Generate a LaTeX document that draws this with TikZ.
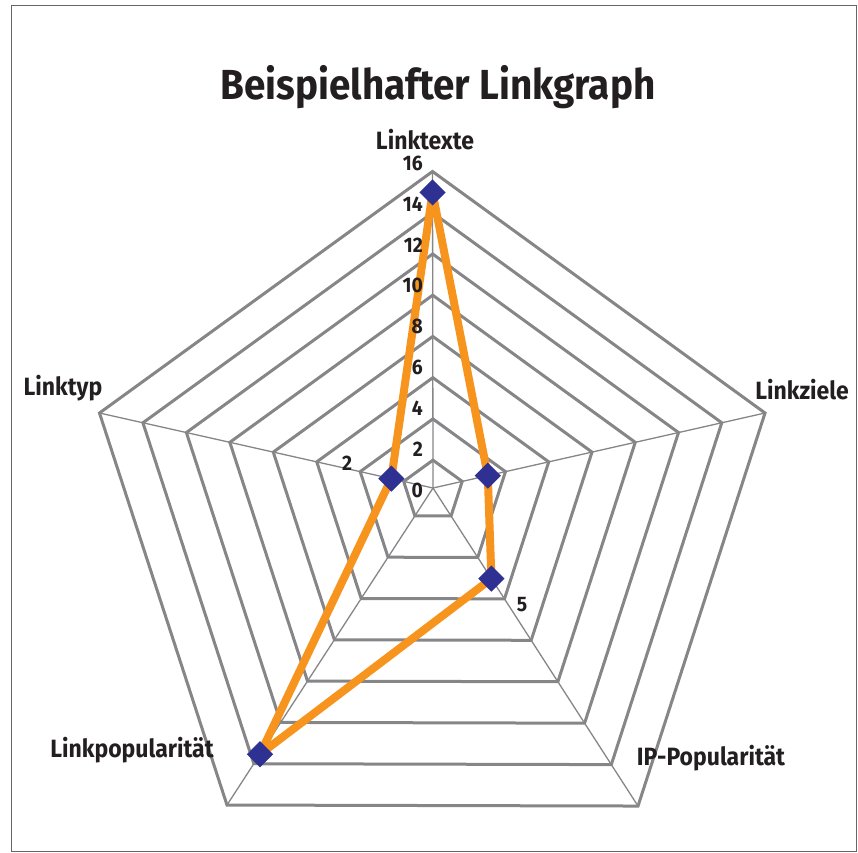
\documentclass[tikz,border=0pt]{standalone}
\usepackage{fontspec}
\newfontfamily\chartfont[FakeStretch=0.92]{Fira Sans}
\usetikzlibrary{calc}
\definecolor{gridgray}{RGB}{134,134,136}
\definecolor{lineorange}{RGB}{247,148,29}
\definecolor{markblue}{RGB}{46,49,146}
\definecolor{textblack}{RGB}{35,31,32}

\begin{document}
\begin{tikzpicture}[x=1pt,y=-1pt,
  ring/.style={draw=gridgray, line width=3pt, line join=miter},
  spoke/.style={draw=gridgray, line width=1.3pt},
  dataline/.style={draw=lineorange, line width=8pt, line join=round},
  marker/.style={fill=markblue, draw=none, minimum size=18.5pt, inner sep=0pt, rotate=45},
  titletext/.style={font=\chartfont\bfseries\fontsize{42}{44}\selectfont, text=textblack, inner sep=0pt},
  axislabel/.style={font=\chartfont\bfseries\fontsize{25}{27}\selectfont, text=textblack, inner sep=0pt},
  ticklabel/.style={font=\chartfont\bfseries\fontsize{21}{23}\selectfont, text=textblack, inner sep=0pt}]
	%%%%% FRAME %%%%%
	\useasboundingbox (0,0) rectangle (858,852);
	\draw[line width=1pt, color=black!60] (11,5) rectangle (856,851);
	
	\node[titletext] (title) at (438,87) {Beispielhafter Linkgraph};
	
	%%%%% AXES %%%%%
	\coordinate (C) at (433,488);
	\coordinate (A1) at (432.5,171.5);
	\coordinate (A2) at (765,413);
	\coordinate (A3) at (638,806);
	\coordinate (A4) at (227,805);
	\coordinate (A5) at (99.5,413);
	
	\foreach \k in {1,...,8} {
		\pgfmathsetmacro\f{0.088+0.1303*(\k-1)}
		\draw[ring] ($(C)!\f!(A1)$) -- ($(C)!\f!(A2)$) -- ($(C)!\f!(A3)$) -- ($(C)!\f!(A4)$) -- ($(C)!\f!(A5)$) -- cycle;
	}
	\foreach \i in {1,...,5}
		\draw[spoke] (C) -- (A\i);
	
	\node[axislabel] (lab1) at (425,140) {Linktexte};
	\node[axislabel] (lab2) at (802,390) {Linkziele};
	\node[axislabel] (lab3) at (711,758) {IP-Popularität};
	\node[axislabel] (lab4) at (132,750) {Linkpopularität};
	\node[axislabel] (lab5) at (63,388) {Linktyp};
	
	%%%%% DATA %%%%%
	\coordinate (p1) at ($(C)!0.934!(A1)$);
	\coordinate (p2) at ($(C)!0.165!(A2)$);
	\coordinate (p3) at ($(C)!0.285!(A3)$);
	\coordinate (p4) at ($(C)!0.84!(A4)$);
	\coordinate (p5) at ($(C)!0.125!(A5)$);
	\draw[dataline] (p1) -- (p2) -- (p3) -- (p4) -- (p5) -- cycle;
	\foreach \i in {1,...,5}
		\node[marker] (m\i) at (p\i) {};
	
	\foreach \v [count=\i from 0] in {16,14,...,0}
		\node[ticklabel, anchor=east] (tick\v) at (423,163+40.9*\i) {\v};
	
	\node[ticklabel] (val5) at (347,463) {2};
	\node[ticklabel] (val3) at (522,605) {5};
\end{tikzpicture}
\end{document}
